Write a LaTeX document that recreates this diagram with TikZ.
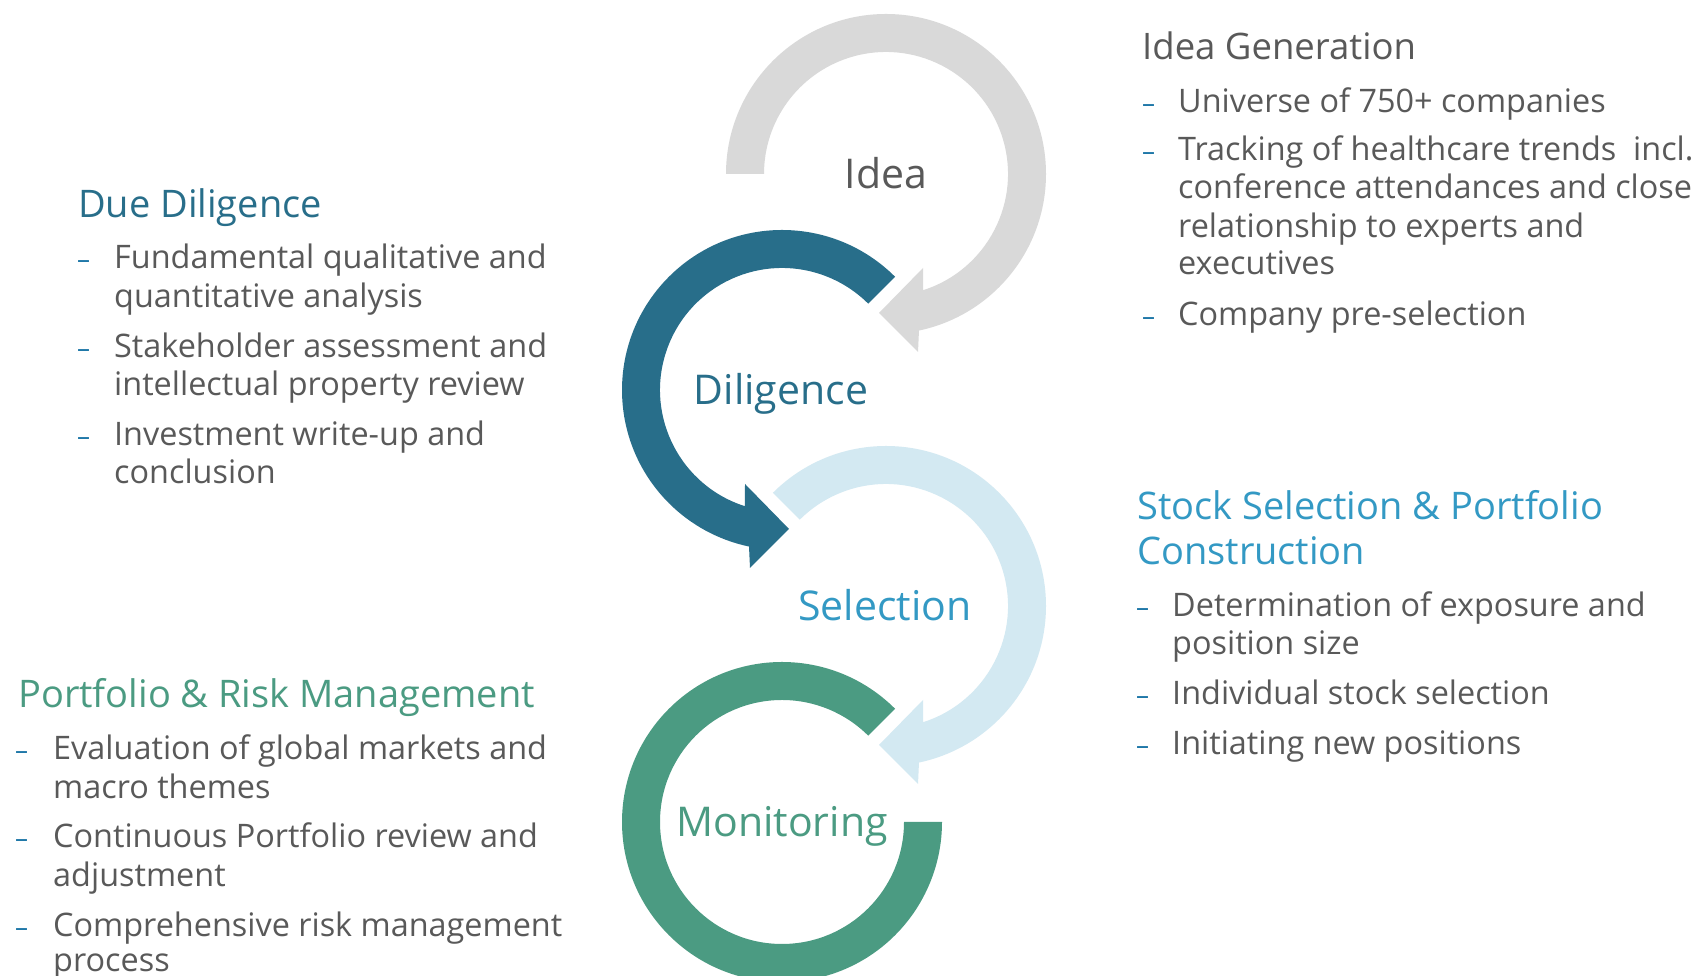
\documentclass[tikz,border=0pt]{standalone}
\usepackage{fontspec}
\setmainfont{Open Sans}
\definecolor{cgray}{HTML}{D9D9D9}
\definecolor{cteal}{HTML}{286E8A}
\definecolor{clight}{HTML}{D3E9F2}
\definecolor{cgreen}{HTML}{4B9B82}
\definecolor{cselect}{HTML}{3399C4}
\definecolor{txtgray}{HTML}{595959}
\definecolor{dashblue}{HTML}{1F78A8}
\begin{document}
\begin{tikzpicture}[x=1pt,y=1pt,
  body/.style={anchor=base west, inner sep=0pt, text=txtgray, font=\fontsize{32.4}{38}\selectfont},
  hdg/.style={anchor=base west, inner sep=0pt, font=\fontsize{38}{45}\selectfont},
  dashmark/.style={anchor=base west, inner sep=0pt, text=dashblue, font=\fontsize{26}{30}\selectfont},
  lbl/.style={anchor=base, inner sep=0pt, font=\fontsize{41}{48}\selectfont}]
\useasboundingbox (0,0) rectangle (1701,976);
\clip (0,0) rectangle (1701,976);
\fill[white] (0,0) rectangle (1701,976);

% Idea arc (gray)
\begin{scope}[shift={(886,802)}]
\fill[cgray] (180:160) arc[start angle=180,end angle=-78.1,radius=160] -- (32,-178) -- (-7,-139) -- (37,-94) -- (-72.3:122) arc[start angle=-72.3,end angle=180,radius=122] -- cycle;
\end{scope}
% Diligence arc (teal)
\begin{scope}[shift={(782,586)}]
\fill[cteal] (45:160) arc[start angle=45,end angle=258.1,radius=160] -- (-32,-178) -- (7,-139) -- (-37,-94) -- (252.3:122) arc[start angle=252.3,end angle=45,radius=122] -- cycle;
\end{scope}
% Selection arc (light blue)
\begin{scope}[shift={(886,370)}]
\fill[clight] (135:160) arc[start angle=135,end angle=-78.1,radius=160] -- (32,-178) -- (-7,-139) -- (37,-94) -- (-72.3:122) arc[start angle=-72.3,end angle=135,radius=122] -- cycle;
\end{scope}
% Monitoring arc (green)
\begin{scope}[shift={(782,154)}]
\fill[cgreen] (45:160) arc[start angle=45,end angle=360,radius=160] -- (0:122) arc[start angle=360,end angle=45,radius=122] -- cycle;
\end{scope}

% circle labels
\node[lbl, text=txtgray] (lidea) at (886,787) {Idea};
\node[lbl, text=cteal] (ldil) at (781,571) {Diligence};
\node[lbl, text=cselect] (lsel) at (885,355) {Selection};
\node[lbl, text=cgreen] (lmon) at (782,139) {Monitoring};

% Idea Generation
\node[hdg, text=txtgray, font=\fontsize{36.5}{45}\selectfont] (igh) at (1142,916) {Idea Generation};
\node[dashmark] (igd1) at (1142,863) {–};
\node[body] (ig1) at (1178,863) {Universe of 750+ companies};
\node[dashmark] (igd2) at (1142,815) {–};
\node[body] (ig2) at (1178,815) {Tracking of healthcare trends\ \ incl.};
\node[body] (ig3) at (1178,777) {conference attendances and close};
\node[body] (ig4) at (1178,738) {relationship to experts and};
\node[body] (ig5) at (1178,701) {executives};
\node[dashmark] (igd3) at (1142,650) {–};
\node[body] (ig6) at (1178,650) {Company pre-selection};

% Due Diligence
\node[hdg, text=cteal] (ddh) at (78,758) {Due Diligence};
\node[dashmark] (ddd1) at (77,707) {–};
\node[body] (dd1) at (114,707) {Fundamental qualitative and};
\node[body] (dd2) at (114,668) {quantitative analysis};
\node[dashmark] (ddd2) at (77,618) {–};
\node[body] (dd3) at (114,618) {Stakeholder assessment and};
\node[body] (dd4) at (114,580) {intellectual property review};
\node[dashmark] (ddd3) at (77,530) {–};
\node[body] (dd5) at (114,530) {Investment write-up and};
\node[body] (dd6) at (114,492) {conclusion};

% Stock Selection
\node[hdg, text=cselect] (ssh1) at (1137,456) {Stock Selection \& Portfolio};
\node[hdg, text=cselect] (ssh2) at (1137,411) {Construction};
\node[dashmark] (ssd1) at (1136,359) {–};
\node[body] (ss1) at (1172,359) {Determination of exposure and};
\node[body] (ss2) at (1172,321) {position size};
\node[dashmark] (ssd2) at (1136,271) {–};
\node[body] (ss3) at (1172,271) {Individual stock selection};
\node[dashmark] (ssd3) at (1136,221) {–};
\node[body] (ss4) at (1172,221) {Initiating new positions};

% Portfolio & Risk Management
\node[hdg, text=cgreen] (prh) at (18,268) {Portfolio \& Risk Management};
\node[dashmark] (prd1) at (15,216) {–};
\node[body] (pr1) at (53,216) {Evaluation of global markets and};
\node[body] (pr2) at (53,177) {macro themes};
\node[dashmark] (prd2) at (15,128) {–};
\node[body] (pr3) at (53,128) {Continuous Portfolio review and};
\node[body] (pr4) at (53,89) {adjustment};
\node[dashmark] (prd3) at (15,39) {–};
\node[body] (pr5) at (53,39) {Comprehensive risk management};
\node[body] (pr6) at (53,4) {process};
\end{tikzpicture}
\end{document}
